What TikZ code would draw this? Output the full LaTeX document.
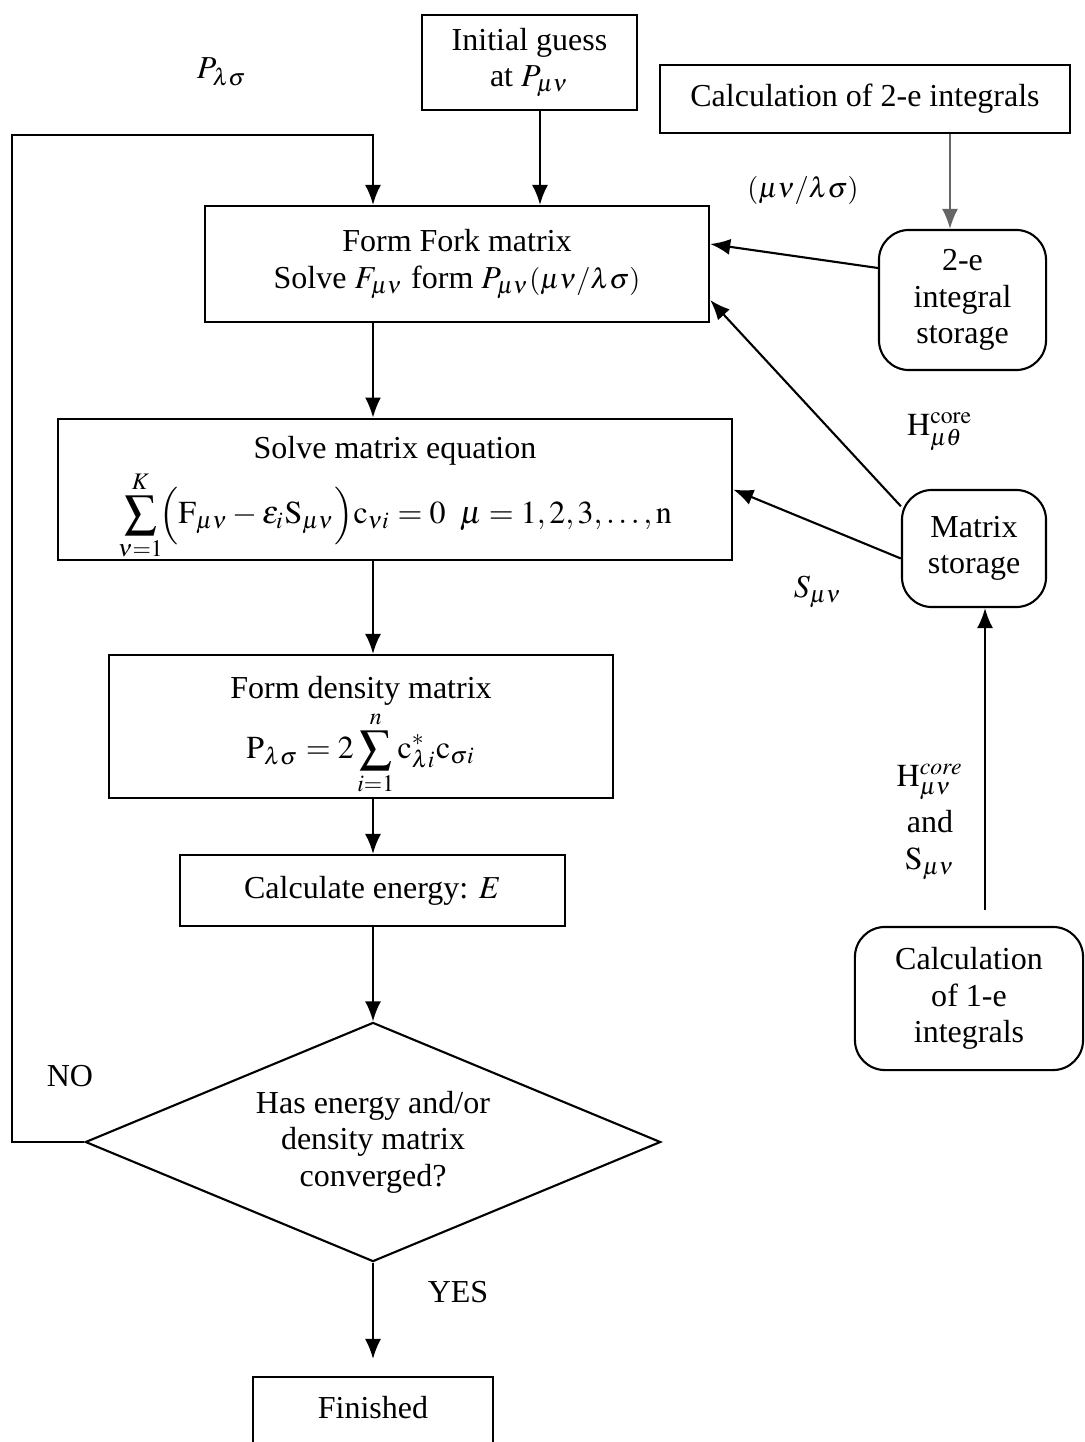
\documentclass[tikz,border=0pt]{standalone}
\usepackage{amsmath}
\usepackage{mathptmx}
\usepackage{fontspec}
\setmainfont{Liberation Serif}
\usetikzlibrary{arrows.meta}
\usetikzlibrary{shapes.geometric}
\tikzset{box/.style={draw, line width=0.6pt, align=center, inner sep=0pt},
 rbox/.style={box, rounded corners=0.3cm},
 arr/.style={draw, line width=0.6pt, -{Latex[length=0.2cm,width=0.16cm]}},
 lbl/.style={align=center, inner sep=0pt},
 }
\newcommand{\intlabel}{{\fontsize{8}{9}\selectfont$(\mu\nu/\lambda\sigma)$}}

\begin{document}
\begin{tikzpicture}[x=0.01cm, y=-0.01cm, font=\fontsize{9.1}{10.4}\selectfont]
        \useasboundingbox (0,0) rectangle (1085,1442);
        \coordinate (axis) at (373,0);

        % main column
        \node[box, minimum width=2.15cm, minimum height=0.95cm] (init) at (529.5,62.5) {Initial guess\\at $P_{\mu\nu}$};
        \node[box, minimum width=5.04cm, minimum height=1.16cm] (fork) at (457,264)
            {Form Fork matrix\\Solve $F_{\mu\nu}$ form $P_{\mu\nu}$\intlabel};
        \node[box, minimum width=6.74cm, minimum height=1.41cm] (solve) at (395,489.5)
            {\rule{0pt}{0.4cm}Solve matrix equation\\[0.02cm]
             $\displaystyle\sum_{\nu=1}^{K}\!\Bigl(\mathrm{F}_{\mu\nu}-\varepsilon_{i}\mathrm{S}_{\mu\nu}\Bigr)\mathrm{c}_{\nu i}=0\;\;\mu=1,2,3,\ldots,\mathrm{n}$};
        \node[box, minimum width=5.04cm, minimum height=1.43cm] (dens) at (361,726.5)
            {\rule{0pt}{0.4cm}Form density matrix\\[0.02cm]
             $\displaystyle\mathrm{P}_{\lambda\sigma}=2\sum_{i=1}^{n}\mathrm{c}^{*}_{\lambda i}\mathrm{c}_{\sigma i}$};
        \node[box, minimum width=3.85cm, minimum height=0.71cm] (energy) at (372.5,890.5) {Calculate energy: $E$};
        \node[box, shape=diamond, shape aspect=2.4, minimum width=5.75cm, minimum height=2.39cm] (conv) at (373,1142)
            {Has energy and/or\\density matrix\\converged?};
        \node[box, anchor=north, minimum width=2.4cm, minimum height=1.1cm, text depth=0.5cm] (fin) at (373,1376) {Finished};

        % right side
        \node[box, minimum width=4.1cm, minimum height=0.68cm] (calc2) at (865,99) {Calculation of 2-e integrals};
        \node[rbox, minimum width=1.67cm, minimum height=1.4cm] (store2) at (962.5,300) {2-e\\integral\\storage};
        \node[rbox, minimum width=1.44cm, minimum height=1.17cm] (mstore) at (974,548.5) {Matrix\\storage};
        \node[rbox, minimum width=2.28cm, minimum height=1.43cm] (calc1) at (969,998.5) {Calculation\\of 1-e\\integrals};
        \coordinate (onestart) at (985,910);

        % labels
        \node[lbl] (plam) at (222,72) {$P_{\lambda\sigma}$};
        \node[lbl] (ints) at (803,190) {\intlabel};
        \node[lbl] (hcore) at (940,432) {$\mathrm{H}^{\mathrm{core}}_{\mu\theta}$};
        \node[lbl] (smunu) at (818,592) {$S_{\mu\nu}$};
        \node[lbl] (hs) at (930,822) {$\mathrm{H}^{core}_{\mu\nu}$\\[0.1cm]and\\$\mathrm{S}_{\mu\nu}$};
        \node[lbl] (no) at (70,1076) {NO};
        \node[lbl] (yes) at (458,1292) {YES};

        % connectors
        \draw[arr] (init.south -| 540,0) -- (fork.north -| 540,0);
        \draw[arr] (conv.west) -- (12,1142) -- (12,135) -| (fork.north -| axis);
        \draw[arr] (fork.south -| axis) -- (solve.north -| axis);
        \draw[arr] (solve.south -| axis) -- (dens.north -| axis);
        \draw[arr] (dens.south -| axis) -- (energy.north -| axis);
        \draw[arr] (energy.south -| axis) -- (conv.north);
        \draw[arr, shorten >=0.17cm] (conv.south) -- (fin.north);
        \draw[arr, draw=gray!80!black] (calc2.south -| 950,0) -- (store2.north -| 950,0);
        \draw[arr] ([yshift=0.32cm]store2.west) -- ([yshift=0.2cm]fork.east);
        \draw[arr] (mstore.150) -- ([yshift=-0.36cm]fork.east);
        \draw[arr] ([yshift=-0.1cm]mstore.west) -- (solve.east);
        \draw[arr] (onestart) -- (onestart |- mstore.south);
    \end{tikzpicture}
\end{document}
